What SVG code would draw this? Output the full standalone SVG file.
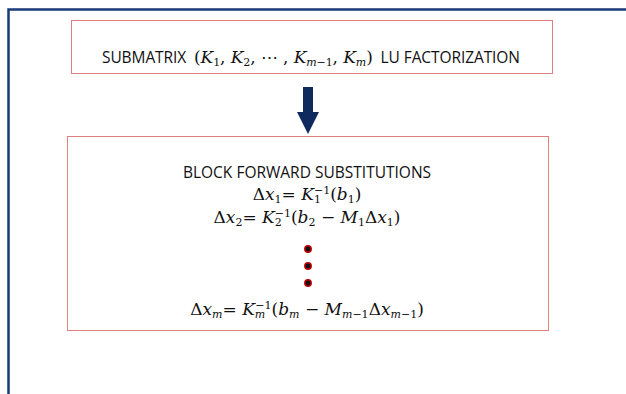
<svg xmlns="http://www.w3.org/2000/svg" width="626" height="394" viewBox="0 0 626 394">
<style>
.frame{fill:none;stroke:#1a3a7a;stroke-width:2.5}
.box{fill:#fff;stroke:#e08080;stroke-width:1}
.t{font-family:"Open Sans","Liberation Sans",sans-serif;font-size:15.5px;fill:#111}
.m{font-family:"DejaVu Serif","Liberation Serif",serif;font-size:17px;fill:#111}
.i{font-style:italic}
.s{font-size:11px}
.dot{fill:#111;stroke:#c00000;stroke-width:1.5}
</style>
<rect width="626" height="394" fill="#fff"/>
<path class="frame" d="M8.5,394 V9.5 H626"/>
<g id="top">
<rect class="box" x="71.5" y="20.5" width="481" height="53"/>
<text x="102" y="63" class="t" xml:space="preserve" textLength="418" lengthAdjust="spacing">SUBMATRIX  <tspan class="m">(<tspan class="i">K</tspan><tspan class="s" dy="3">1</tspan><tspan dy="-3">, </tspan><tspan class="i">K</tspan><tspan class="s" dy="3">2</tspan><tspan dy="-3">, ⋯ , </tspan><tspan class="i">K</tspan><tspan class="s i" dy="3">m</tspan><tspan class="s">−1</tspan><tspan dy="-3">, </tspan><tspan class="i">K</tspan><tspan class="s i" dy="3">m</tspan><tspan dy="-3">)</tspan></tspan>  LU FACTORIZATION</text>
</g>
<g id="connectors">
<path d="M303,87 H313 V112 H319 L308,134 L297,112 H303 Z" fill="#0f2a5c"/>
</g>
<g id="bottom">
<rect class="box" x="67.5" y="136.5" width="481" height="194"/>
<text x="307" y="178" class="t" text-anchor="middle">BLOCK FORWARD SUBSTITUTIONS</text>
<text x="307" y="200" class="m" text-anchor="middle">Δ<tspan class="i">x</tspan><tspan class="s" dy="3">1</tspan><tspan dy="-3">= </tspan><tspan class="i">K</tspan><tspan class="s" dy="3">1</tspan><tspan class="s" dx="-7" dy="-9">−1</tspan><tspan dy="6">(</tspan><tspan class="i">b</tspan><tspan class="s" dy="3">1</tspan><tspan dy="-3">)</tspan></text>
<text x="307" y="223" class="m" text-anchor="middle">Δ<tspan class="i">x</tspan><tspan class="s" dy="3">2</tspan><tspan dy="-3">= </tspan><tspan class="i">K</tspan><tspan class="s" dy="3">2</tspan><tspan class="s" dx="-7" dy="-9">−1</tspan><tspan dy="6">(</tspan><tspan class="i">b</tspan><tspan class="s" dy="3">2</tspan><tspan dy="-3"> − </tspan><tspan class="i">M</tspan><tspan class="s" dy="3">1</tspan><tspan dy="-3">Δ</tspan><tspan class="i">x</tspan><tspan class="s" dy="3">1</tspan><tspan dy="-3">)</tspan></text>
<circle class="dot" cx="308" cy="249" r="3.2"/>
<circle class="dot" cx="308" cy="266" r="3.2"/>
<circle class="dot" cx="308" cy="283" r="3.2"/>
<text x="307" y="315" class="m" text-anchor="middle">Δ<tspan class="i">x</tspan><tspan class="s i" dy="3">m</tspan><tspan dy="-3">= </tspan><tspan class="i">K</tspan><tspan class="s i" dy="3">m</tspan><tspan class="s" dx="-10" dy="-9">−1</tspan><tspan dy="6">(</tspan><tspan class="i">b</tspan><tspan class="s i" dy="3">m</tspan><tspan dy="-3"> − </tspan><tspan class="i">M</tspan><tspan class="s" dy="3"><tspan class="i">m</tspan>−1</tspan><tspan dy="-3">Δ</tspan><tspan class="i">x</tspan><tspan class="s" dy="3"><tspan class="i">m</tspan>−1</tspan><tspan dy="-3">)</tspan></text>
</g>
</svg>
